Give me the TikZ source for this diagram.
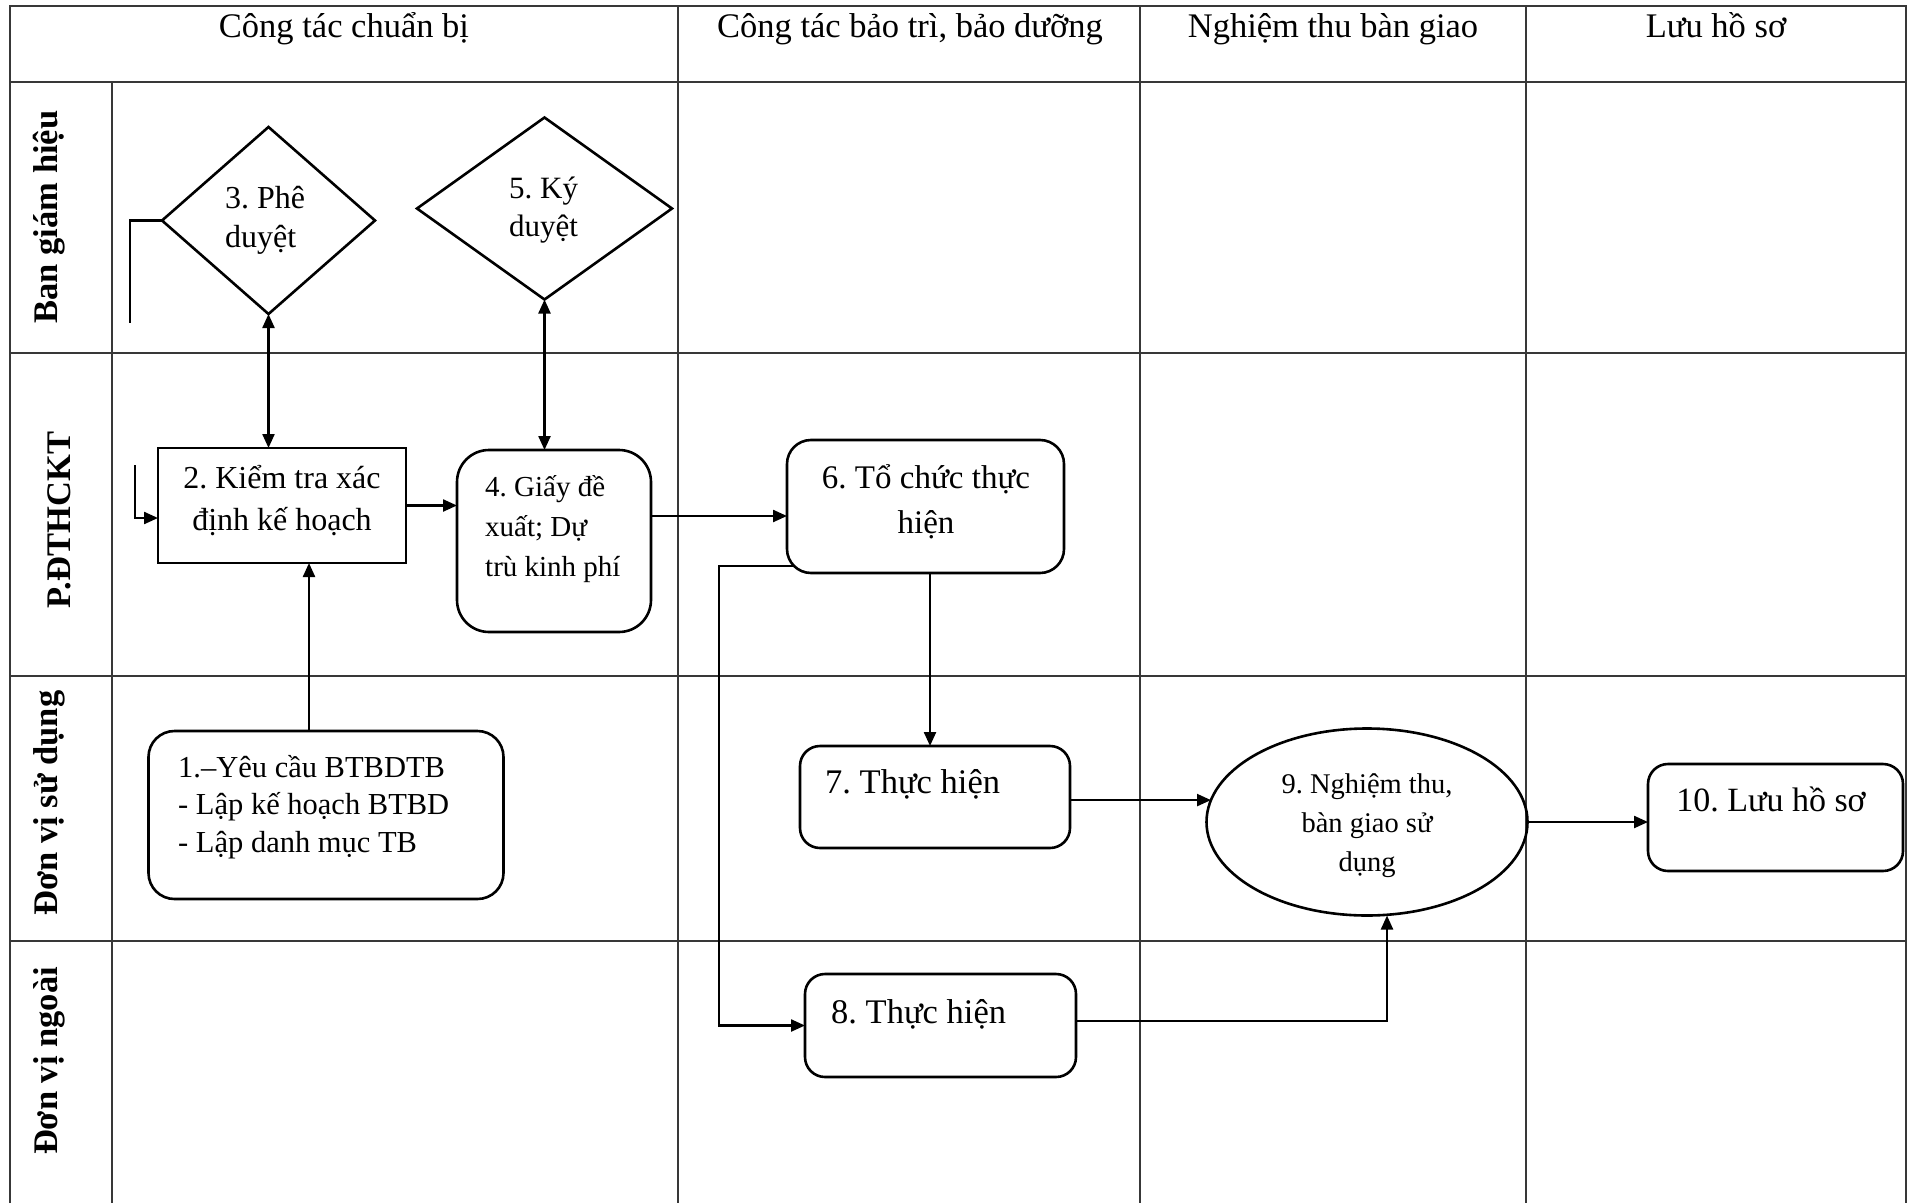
\documentclass[tikz,border=0pt]{standalone}
\usepackage{fontspec}
\setmainfont{Liberation Serif}
\usetikzlibrary{arrows.meta,shapes.geometric}
\frenchspacing
\newcommand{\mycstack}[2]{\vtop{\baselineskip=#1\halign{\hfil##\hfil\cr#2\crcr}}}
\newcommand{\mylstack}[2]{\vtop{\baselineskip=#1\halign{##\hfil\cr#2\crcr}}}
\begin{document}
\begin{tikzpicture}[x=1pt,y=-1pt,
  gridline/.style={line width=1.8pt, draw=black!78},
  box/.style={draw, line width=2.6pt, inner sep=0pt, outer sep=0pt},
  rbox/.style={box, rectangle, rounded corners=20pt},
  dia/.style={box, diamond},
  conn/.style={line width=2.3pt, -{Triangle[length=14pt,width=12pt]}},
  biarrow/.style={line width=2.3pt, {Triangle[length=14pt,width=12pt]}-{Triangle[length=14pt,width=12pt]}},
  loopline/.style={line width=2.3pt},
  hdr/.style={font=\fontsize{34.5pt}{40pt}\selectfont, anchor=base, inner sep=0pt},
  lane/.style={font=\fontsize{34.5pt}{40pt}\selectfont\bfseries, rotate=90, anchor=base, inner sep=0pt},
  txt/.style={inner sep=0pt, anchor=base west},
  ctxt/.style={inner sep=0pt, anchor=base},
]
\fill[white] (0,0) rectangle (1910,1203);
% grid
\draw[gridline] (10,1203) -- (10,6) -- (1906,6) -- (1906,1203);
\foreach \yy in {82,353,676,941} \draw[gridline] (10,\yy) -- (1906,\yy);
\draw[gridline] (112,82) -- (112,1203);
\foreach \xx in {678,1140,1526} \draw[gridline] (\xx,6) -- (\xx,1203);
% headers
\node[hdr] (h1) at (344,38) {Công tác chuẩn bị};
\node[hdr] (h2) at (910,38) {Công tác bảo trì, bảo dưỡng};
\node[hdr] (h3) at (1333,38) {Nghiệm thu bàn giao};
\node[hdr] (h4) at (1716,38) {Lưu hồ sơ};
% lane labels
\node[lane] (l1) at (57,217) {Ban giám hiệu};
\node[lane] (l2) at (70,520) {P.ĐTHCKT};
\node[lane] (l3) at (57,803) {Đơn vị sử dụng};
\node[lane] (l4) at (57,1061) {Đơn vị ngoài};
% shapes
\node[rbox, rounded corners=26pt, minimum width=355pt, minimum height=168pt] (n1) at (326,815) {};
\node[box, rectangle, minimum width=248pt, minimum height=115pt] (n2) at (282,505.5) {};
\node[dia, minimum width=213pt, minimum height=187pt] (n3) at (268.5,220.5) {};
\node[rbox, rounded corners=32pt, minimum width=194pt, minimum height=182pt] (n4) at (554,541) {};
\node[dia, minimum width=255pt, minimum height=182pt] (n5) at (544.5,208.5) {};
\node[rbox, rounded corners=24pt, minimum width=277pt, minimum height=133pt] (n6) at (925.5,506.5) {};
\node[rbox, minimum width=270pt, minimum height=102pt] (n7) at (935,797) {};
\node[rbox, minimum width=271pt, minimum height=103pt] (n8) at (940.5,1025.5) {};
\node[box, ellipse, minimum width=321pt, minimum height=187pt] (n9) at (1367,822) {};
\node[rbox, minimum width=255pt, minimum height=107pt] (n10) at (1775.5,817.5) {};
% texts
\node[txt, font=\fontsize{30.5pt}{37pt}\selectfont] (t1) at (178,777) {\mylstack{37.5pt}{1.–Yêu cầu BTBDTB\cr - Lập kế hoạch BTBD\cr - Lập danh mục TB}};
\node[ctxt, font=\fontsize{32pt}{40pt}\selectfont] (t2) at (282,488) {\mycstack{42pt}{2. Kiểm tra xác\cr định kế hoạch}};
\node[txt, font=\fontsize{32pt}{40pt}\selectfont] (t3) at (225,208) {\mylstack{39pt}{3. Phê\cr duyệt}};
\node[txt, font=\fontsize{29pt}{36pt}\selectfont] (t4) at (485,496) {\mylstack{40pt}{4. Giấy đề\cr xuất; Dự\cr trù kinh phí}};
\node[txt, font=\fontsize{31pt}{38pt}\selectfont] (t5) at (509,198) {\mylstack{38pt}{5. Ký\cr duyệt}};
\node[ctxt, font=\fontsize{33pt}{40pt}\selectfont] (t6) at (926,488) {\mycstack{45pt}{6. Tổ chức thực\cr hiện}};
\node[txt, font=\fontsize{34.5pt}{40pt}\selectfont] (t7) at (825,793) {7. Thực hiện};
\node[txt, font=\fontsize{34.5pt}{40pt}\selectfont] (t8) at (831,1023) {8. Thực hiện};
\node[ctxt, font=\fontsize{28.5pt}{36pt}\selectfont] (t9) at (1367,793) {\mycstack{39pt}{9. Nghiệm thu,\cr bàn giao sử\cr dụng}};
\node[ctxt, font=\fontsize{34pt}{40pt}\selectfont] (t10) at (1771,811) {10. Lưu hồ sơ};
% connectors
\draw[biarrow] (n3.south) -- (n3.south |- n2.north);
\draw[biarrow] (n5.south) -- (n5.south |- n4.north);
\draw[conn] ([xshift=-17pt]n1.north) -- ([xshift=-17pt]n1.north |- n2.south);
\draw[conn] (n2.east) -- (n2.east -| n4.west);
\draw[conn] ([yshift=25pt]n4.east) -- ([yshift=25pt]n4.east -| n6.west);
\draw[conn] ([xshift=4.5pt]n6.south) -- ([xshift=4.5pt]n6.south |- n7.north);
\coordinate (c6) at (719,566);
\draw[conn] ([xshift=6pt,yshift=-59.5pt]n6.west) -- (c6) |- (n8.west);
\draw[conn] (n7.east |- n9.172) -- (n9.172);
\draw[conn] ([yshift=4.5pt]n8.east) -| ([xshift=20pt]n9.south);
\draw[conn] (n9.east) -- (n9.east -| n10.west);
\coordinate (c3) at (130,323);
\draw[loopline] (n3.west) -| (c3);
\coordinate (c2) at (135,465);
\draw[conn] (c2) |- ([yshift=-12.5pt]n2.west);
\end{tikzpicture}
\end{document}
